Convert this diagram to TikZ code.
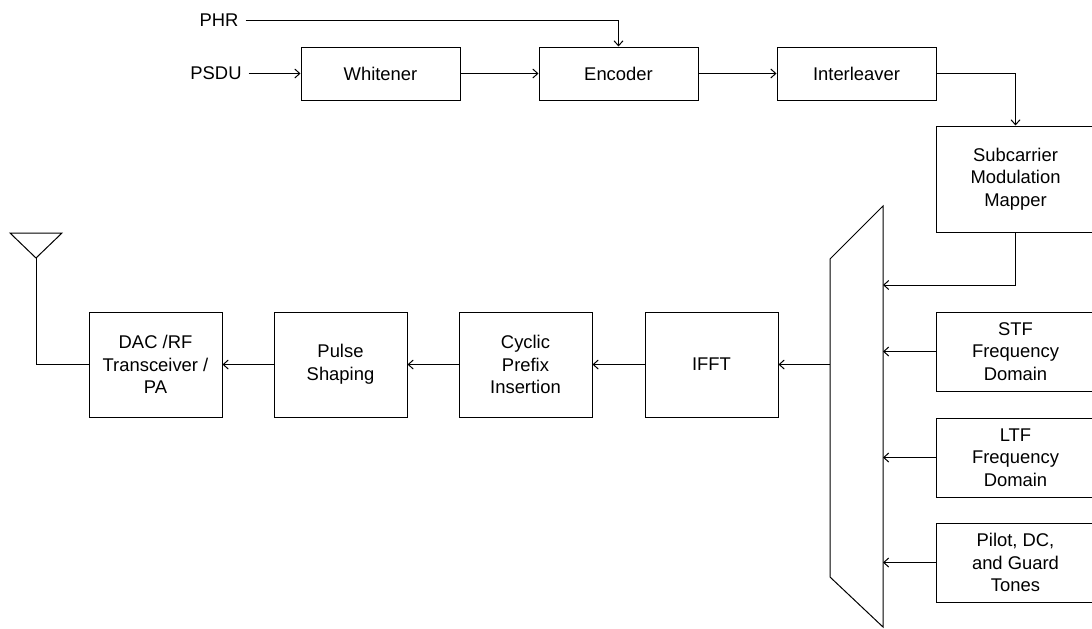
\documentclass[tikz,border=0pt]{standalone}
\usepackage{fontspec}
\setmainfont{Liberation Sans}
\usetikzlibrary{positioning,arrows.meta}

\begin{document}
\begin{tikzpicture}[x=0.5pt, y=-0.5pt, line width=0.5pt,
  >={Straight Barb[length=2.5pt,width=4.5pt]},
  font=\fontsize{9.2}{11.3}\selectfont,
  block/.style={draw, align=center, inner sep=0pt, minimum width=79.5pt, minimum height=26.5pt},
  tallblock/.style={block, minimum height=53pt},
  rowblock/.style={draw, align=center, inner sep=0pt, minimum width=66.5pt, minimum height=52.5pt},
  srcblock/.style={block, minimum height=39.5pt}]
\useasboundingbox (0,0) rectangle (1092,628);

% encoder chain
\node (phr) at (219,20) {PHR};
\node (psdu) at (216,73.5) {PSDU};
\node (wh) [block] at (380.5,73.5) {Whitener};
\node (enc) [block, right=39pt of wh] {Encoder};
\node (il) [block, right=39pt of enc] {Interleaver};
\node (map) [tallblock] at (1015.5,179) {Subcarrier\\Modulation\\Mapper};

% sources into the mux
\node (stf) [srcblock, below=39.5pt of map] {STF\\Frequency\\Domain};
\node (ltf) [srcblock, below=13pt of stf] {LTF\\Frequency\\Domain};
\node (pilot) [srcblock, below=12.5pt of ltf] {Pilot, DC,\\and Guard\\Tones};

% mux
\draw (830,259) -- (883,206) -- (883,627) -- (830,577) -- cycle;
\coordinate (mux in) at (883,285);
\coordinate (mux out) at (830,364.5);

% transmit chain
\node (ifft) [rowblock] at (711.5,364.5) {IFFT};
\node (cp) [rowblock, left=26pt of ifft] {Cyclic\\Prefix\\Insertion};
\node (ps) [rowblock, left=25.5pt of cp] {Pulse\\Shaping};
\node (dac) [rowblock, left=25.5pt of ps] {DAC /RF\\Transceiver /\\PA};

% antenna
\coordinate (ant) at (36,258);
\draw (ant) -- (10,233) -- (62,233) -- cycle;

\draw[->] (psdu) -- (wh);
\draw[->] (wh) -- (enc);
\draw[->] (enc) -- (il);
\draw[->] (phr) -| (enc);
\draw[->] (il) -| (map);
\draw[->] (map) |- (mux in);
\draw[->] (stf) -- (stf -| mux in);
\draw[->] (ltf) -- (ltf -| mux in);
\draw[->] (pilot) -- (pilot -| mux in);
\draw[->] (mux out) -- (ifft);
\draw[->] (ifft) -- (cp);
\draw[->] (cp) -- (ps);
\draw[->] (ps) -- (dac);
\draw (dac) -| (ant);
\end{tikzpicture}
\end{document}
